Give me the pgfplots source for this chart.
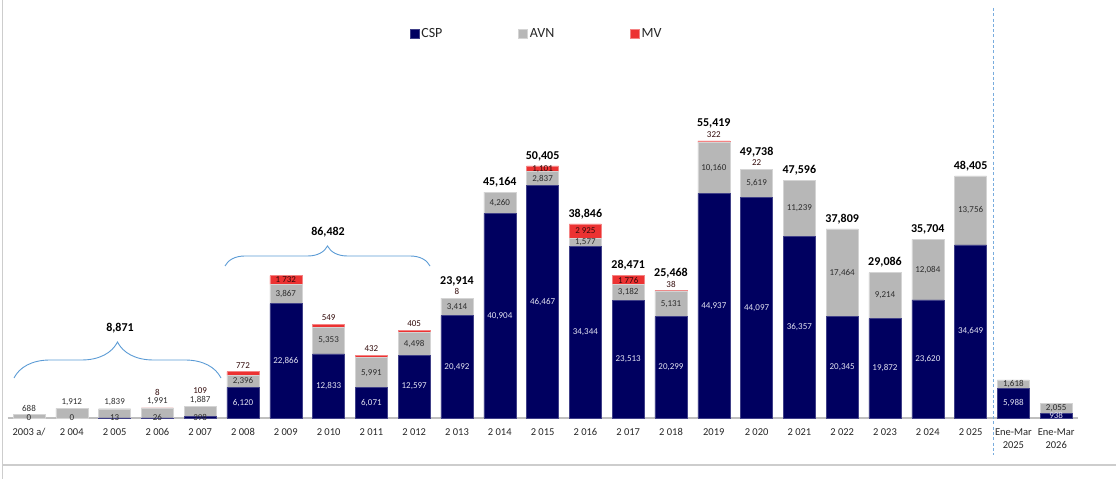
\documentclass[border=0pt]{standalone}
\usepackage{fontspec}
\setmainfont{Carlito}
\usepackage{pgfplots}
\pgfplotsset{compat=1.18}
\usepackage{pgfplotstable}
\usetikzlibrary{decorations.pathreplacing}
\definecolor{cspc}{RGB}{0,0,96}
\definecolor{avnc}{RGB}{183,183,183}
\definecolor{mvc}{RGB}{236,50,50}
\definecolor{labw}{RGB}{228,228,242}
\definecolor{labd}{RGB}{45,45,45}
\definecolor{mvlab}{RGB}{50,10,10}
\definecolor{bracec}{RGB}{91,155,213}
\definecolor{framec}{RGB}{205,205,205}
\definecolor{axc}{RGB}{191,191,191}
\definecolor{dotc}{RGB}{120,172,222}
\definecolor{tickc}{RGB}{38,38,38}

% x, CSP value/label/label offset (pt), AVN value/label/offset, MV value/label/offset, total label/offset
\pgfplotstableread{
x  csp   cl      cspo avn   al      avno mv   ml      mvo  z tot      to
0  0     0       0    688   688     8.2  0    {}      0    0 {}       0
1  0     0       0    1912  1,912   11.3 0    {}      0    0 {}       0
2  13    13      0    1839  1,839   11.1 0    {}      0    0 {}       0
3  26    26      0    1991  1,991   11.5 8    8       15.5 0 {}       0
4  398   398     0    1887  1,887   11.2 109  109     15.2 0 {}       0
5  6120  6,120   0    2396  2,396   0    772  772     8.4  0 {}       0
6  22866 22,866  0    3867  3,867   0    1732 {1 732} 0    0 {}       0
7  12833 12,833  0    5353  5,353   0    549  549     7.9  0 {}       0
8  6071  6,071   0    5991  5,991   0    432  432     7.6  0 {}       0
9  12597 12,597  0    4498  4,498   0    405  405     7.5  0 {}       0
10 20492 20,492  0    3414  3,414   0    8    8       6.5  0 23,914   17.5
11 40904 40,904  0    4260  4,260   0    0    {}      0    0 45,164   10
12 46467 46,467  0    2837  2,837   0    1101 1,101   0    0 50,405   10
13 34344 34,344  0    1577  1,577   0    2925 {2 925} 0    0 38,846   10
14 23513 23,513  0    3182  3,182   0    1776 {1 776} 0    0 28,471   10
15 20299 20,299  0    5131  5,131   0    38   38      6.6  0 25,468   17.5
16 44937 44,937  0    10160 10,160  0    322  322     7.3  0 55,419   17.5
17 44097 44,097  0    5619  5,619   0    22   22      6.6  0 49,738   17.5
18 36357 36,357  0    11239 11,239  0    0    {}      0    0 47,596   10
19 20345 20,345  0    17464 17,464  0    0    {}      0    0 37,809   10
20 19872 19,872  0    9214  9,214   0    0    {}      0    0 29,086   10
21 23620 23,620  0    12084 12,084  0    0    {}      0    0 35,704   10
22 34649 34,649  0    13756 13,756  0    0    {}      0    0 48,405   10
23 5988  5,988   0    1618  1,618   0    0    {}      0    0 {}       0
24 938   938     0    2055  2,055   0    0    {}      0    0 {}       0
}\data

\pgfplotsset{
  commonaxis/.style={
    at={(7.6pt,61pt)}, anchor=south west,
    scale only axis, width=1070pt, height=300pt,
    xmin=-0.5, xmax=24.5, ymin=0, ymax=60000,
    clip=false,
  },
  seglabel/.style={draw=none, mark=none, nodes near coords, point meta=explicit symbolic,
    every node near coord/.append style={anchor=center, inner sep=0pt, font=\fontsize{9}{10}\selectfont, text=#1}},
}

\begin{document}
\begin{tikzpicture}
\useasboundingbox (0pt,0pt) rectangle (1116pt,479pt);
\begin{axis}[
  commonaxis,
  ybar stacked, bar width=32pt,
  legend image code/.code={\fill[#1] (0pt,-4.5pt) rectangle (9pt,4.5pt);},
  axis x line*=bottom, axis y line=none,
  x axis line style={draw=axc, line width=1.6pt},
  xtick={0,...,24},
  xticklabels={2003 a/,2 004,2 005,2 006,2 007,2 008,2 009,2 010,2 011,2 012,2 013,2 014,2 015,2 016,2 017,2 018,2019,2 020,2 021,2 022,2 023,2 024,2 025,{Ene-Mar\\2025},{Ene-Mar\\2026}},
  major tick length=0pt,
  xticklabel style={font=\fontsize{10.5}{13}\selectfont, text=tickc, align=center, yshift=-7pt},
  ytick=\empty,
  legend columns=3,
  legend cell align=left,
  legend style={draw=none, fill=none, inner sep=0pt, outer sep=0pt,
    at={(0.376,1.28)}, anchor=west,
    font=\fontsize{14}{16}\selectfont, text=tickc,
    nodes={inner xsep=2pt, inner ysep=0pt},
    /tikz/every even column/.append style={column sep=74pt}},
]
\addplot[fill=cspc, draw=cspc!75!white, line width=0.4pt] table[x=x, y=csp]{\data};
\addlegendentry{CSP}
\addplot[fill=avnc, draw=avnc!60!white, line width=0.4pt] table[x=x, y=avn]{\data};
\addlegendentry{AVN}
\addplot[fill=mvc, draw=mvc!60!white, line width=0.4pt] table[x=x, y=mv]{\data};
\addlegendentry{MV}
\end{axis}
% value labels, placed at the middle of each segment (offsets in pt, 1pt = 200 units)
\begin{axis}[commonaxis, hide axis]
\addplot[seglabel=labd, restrict x to domain=-1:4.5]
  table[x=x, y expr={\thisrow{csp}/2+200*\thisrow{cspo}}, meta=cl]{\data};
\addplot[seglabel=labw, restrict x to domain=4.5:25]
  table[x=x, y expr={\thisrow{csp}/2+200*\thisrow{cspo}}, meta=cl]{\data};
\addplot[seglabel=labd]
  table[x=x, y expr={\thisrow{csp}+\thisrow{avn}/2+200*\thisrow{avno}}, meta=al]{\data};
\addplot[seglabel=mvlab]
  table[x=x, y expr={\thisrow{csp}+\thisrow{avn}+\thisrow{mv}/2+200*\thisrow{mvo}}, meta=ml]{\data};
\addplot[seglabel=black, every node near coord/.append style={font=\bfseries\fontsize{12}{14}\selectfont}]
  table[x=x, y expr={\thisrow{csp}+\thisrow{avn}+\thisrow{mv}+200*\thisrow{to}}, meta=tot]{\data};
\end{axis}
% frame, separator and braces
\draw[framec, line width=1.5pt] (2.5pt,479pt) -- (2.5pt,0pt);
\draw[framec, line width=1.5pt] (2.5pt,14pt) -- (1116pt,14pt);
\draw[dotc, line width=1.6pt, dash pattern=on 3pt off 2.3pt] (993.5pt,471pt) -- (993.5pt,24pt);
\draw[bracec, line width=0.9pt, decorate, decoration={brace, amplitude=36pt}] (14pt,101pt) -- (221pt,101pt);
\node[font=\bfseries\fontsize{12}{14}\selectfont] at (120pt,151pt) {8,871};
\draw[bracec, line width=0.9pt, decorate, decoration={brace, amplitude=20pt}] (225pt,213pt) -- (430pt,213pt);
\node[font=\bfseries\fontsize{12}{14}\selectfont] at (328pt,247pt) {86,482};
\end{tikzpicture}
\end{document}
